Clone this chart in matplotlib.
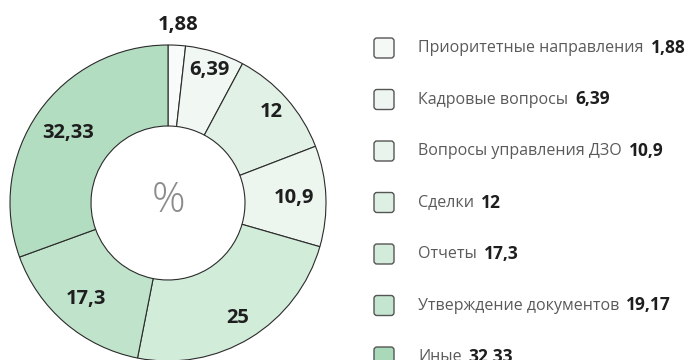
import matplotlib.pyplot as plt
from matplotlib.patches import FancyBboxPatch
import numpy as np

plt.rcParams['font.family'] = ['Open Sans', 'DejaVu Sans']

# ring, clockwise from the top
ring_values = [1.88, 6.39, 12, 10.9, 25, 17.3, 32.33]
ring_colors = ['#f8fbf9', '#f1f8f3', '#e1f1e6', '#ecf6ef', '#d2ecda', '#c0e4cb', '#b3ddc1']

# legend entries
categories = ['Приоритетные направления', 'Кадровые вопросы', 'Вопросы управления ДЗО',
              'Сделки', 'Отчеты', 'Утверждение документов', 'Иные']
legend_values = [1.88, 6.39, 10.9, 12, 17.3, 19.17, 32.33]
legend_colors = ['#f5f9f6', '#eff6f1', '#e9f4ec', '#ddf0e3', '#d3ebdb', '#c4e5cf', '#aad9ba']


def fmt(v):
    return ('%g' % v).replace('.', ',')


fig = plt.figure(figsize=(6.93, 3.6), dpi=100)
ax = fig.add_axes([0, 0, 1, 1])

cx, cy, R, r_in = 168, 157, 158, 77
wedges, _ = ax.pie(ring_values, colors=ring_colors, startangle=90, counterclock=False,
                   center=(cx, cy), radius=R, frame=True,
                   wedgeprops=dict(width=R - r_in, edgecolor='#2b2b2b', linewidth=0.8))
ax.set_xlim(0, 693)
ax.set_ylim(0, 360)
ax.set_aspect('equal')
ax.axis('off')

# label radius as a fraction of the outer radius
label_r = [1.13, 0.88, 0.87, 0.80, 0.85, 0.80, 0.77]
for w, v, lr in zip(wedges, ring_values, label_r):
    mid = np.deg2rad((w.theta1 + w.theta2) / 2)
    ax.text(cx + lr * R * np.cos(mid), cy + lr * R * np.sin(mid), fmt(v),
            ha='center', va='center', fontsize=14.5, fontweight='bold', color='#1e1e1e')

ax.text(cx, cy + 2, '%', ha='center', va='center', fontsize=30,
        fontweight='light', color='#8c8c8c')

# legend drawn by hand: rounded swatch, label and bold value
y0, step = 312, 51.5
for i, (name, v, c) in enumerate(zip(categories, legend_values, legend_colors)):
    y = y0 - i * step
    ax.add_patch(FancyBboxPatch((374, y - 10), 20, 20, boxstyle='round,pad=0,rounding_size=3',
                                facecolor=c, edgecolor='#555555', linewidth=1.0))
    t = ax.text(418, y, name, ha='left', va='center', fontsize=11.5, color='#5a5a5a')
    ax.annotate(fmt(v), xy=(1, 0.5), xycoords=t, xytext=(5, 0), textcoords='offset points',
                ha='left', va='center', fontsize=12.5, fontweight='bold', color='#1e1e1e')

fig.savefig('out.png', dpi=100, facecolor='white')
